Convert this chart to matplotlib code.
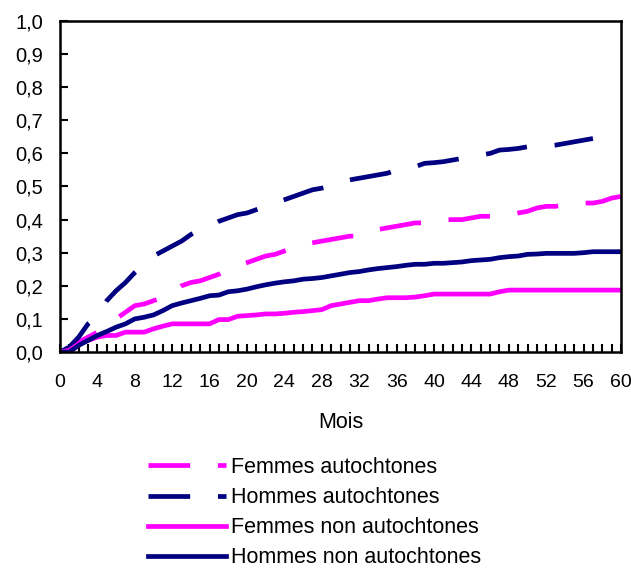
import matplotlib
matplotlib.use("Agg")
import matplotlib.pyplot as plt
from matplotlib.ticker import MultipleLocator, FuncFormatter

plt.rcParams['font.family'] = ['Liberation Sans', 'DejaVu Sans']
plt.rcParams['lines.scale_dashes'] = False

# Data: cumulative proportion by month
mois = list(range(61))

femmes_auto = [0.000, 0.010, 0.030, 0.045, 0.060, 0.080, 0.100, 0.120, 0.140, 0.145,
               0.155, 0.165, 0.180, 0.200, 0.210, 0.215, 0.225, 0.235, 0.250, 0.260,
               0.270, 0.280, 0.290, 0.295, 0.305, 0.315, 0.325, 0.330, 0.335, 0.340,
               0.345, 0.350, 0.350, 0.360, 0.370, 0.375, 0.380, 0.385, 0.390, 0.390,
               0.395, 0.400, 0.400, 0.400, 0.405, 0.410, 0.410, 0.415, 0.415, 0.420,
               0.425, 0.435, 0.440, 0.440, 0.445, 0.450, 0.450, 0.450, 0.455, 0.465,
               0.470]

hommes_auto = [0.000, 0.015, 0.045, 0.085, 0.110, 0.155, 0.185, 0.210, 0.240, 0.265,
               0.290, 0.305, 0.320, 0.335, 0.355, 0.370, 0.380, 0.395, 0.405, 0.415,
               0.420, 0.430, 0.440, 0.450, 0.460, 0.470, 0.480, 0.490, 0.495, 0.500,
               0.510, 0.520, 0.525, 0.530, 0.535, 0.540, 0.550, 0.555, 0.560, 0.570,
               0.572, 0.575, 0.580, 0.585, 0.590, 0.595, 0.600, 0.610, 0.612, 0.615,
               0.620, 0.620, 0.622, 0.625, 0.630, 0.635, 0.640, 0.645]

femmes_non_auto = [0.000, 0.005, 0.025, 0.035, 0.045, 0.050, 0.050, 0.060, 0.060, 0.060,
                   0.070, 0.078, 0.085, 0.085, 0.085, 0.085, 0.085, 0.098, 0.098, 0.108,
                   0.110, 0.112, 0.115, 0.115, 0.117, 0.120, 0.122, 0.125, 0.128, 0.140,
                   0.145, 0.150, 0.155, 0.155, 0.160, 0.164, 0.164, 0.164, 0.166, 0.170,
                   0.175, 0.175, 0.175, 0.175, 0.175, 0.175, 0.175, 0.182, 0.187, 0.187,
                   0.187, 0.187, 0.187, 0.187, 0.187, 0.187, 0.187, 0.187, 0.187, 0.187,
                   0.187]

hommes_non_auto = [0.000, 0.000, 0.020, 0.035, 0.050, 0.062, 0.075, 0.085, 0.100, 0.105,
                   0.112, 0.125, 0.140, 0.148, 0.155, 0.162, 0.170, 0.172, 0.182, 0.185,
                   0.190, 0.197, 0.203, 0.208, 0.212, 0.215, 0.220, 0.222, 0.225, 0.230,
                   0.235, 0.240, 0.243, 0.248, 0.252, 0.255, 0.258, 0.262, 0.265, 0.265,
                   0.268, 0.268, 0.270, 0.272, 0.276, 0.278, 0.280, 0.285, 0.288, 0.290,
                   0.295, 0.296, 0.298, 0.298, 0.298, 0.298, 0.300, 0.303, 0.303, 0.303,
                   0.303]

magenta = '#FF00FF'
navy = '#000080'
dash = (0, (30, 20))

fig = plt.figure(figsize=(6.31, 5.69), dpi=100)
ax = fig.add_axes([60 / 631, 1 - 352 / 569, 561 / 631, 331 / 569])

ax.plot(mois, femmes_auto, color=magenta, lw=3.4, linestyle=dash,
        label='Femmes autochtones')
ax.plot(mois[:len(hommes_auto)], hommes_auto, color=navy, lw=3.4, linestyle=dash,
        label='Hommes autochtones')
ax.plot(mois, femmes_non_auto, color=magenta, lw=3.4, label='Femmes non autochtones')
ax.plot(mois, hommes_non_auto, color=navy, lw=3.4, label='Hommes non autochtones')

ax.set_xlim(0, 60)
ax.set_ylim(0, 1.0)
ax.xaxis.set_major_locator(MultipleLocator(4))
ax.xaxis.set_minor_locator(MultipleLocator(1))
ax.yaxis.set_major_locator(MultipleLocator(0.1))
ax.yaxis.set_major_formatter(FuncFormatter(lambda v, p: f"{v:.1f}".replace('.', ',')))

ax.tick_params(axis='x', which='both', direction='in', length=6, width=1.5,
               labelsize=14, pad=16)
ax.tick_params(axis='y', direction='in', length=6, width=1.5, labelsize=14.5, pad=12)
for s in ax.spines.values():
    s.set_linewidth(1.8)

ax.set_xlabel('Mois', fontsize=15.5, labelpad=15)

fig.legend(loc='upper left', bbox_to_anchor=(148 / 631, 1 - 457 / 569),
           frameon=False, fontsize=15.5, handlelength=3.6, handletextpad=0.25,
           labelspacing=0.42, borderpad=0, borderaxespad=0)

fig.savefig('out.png', dpi=100)
